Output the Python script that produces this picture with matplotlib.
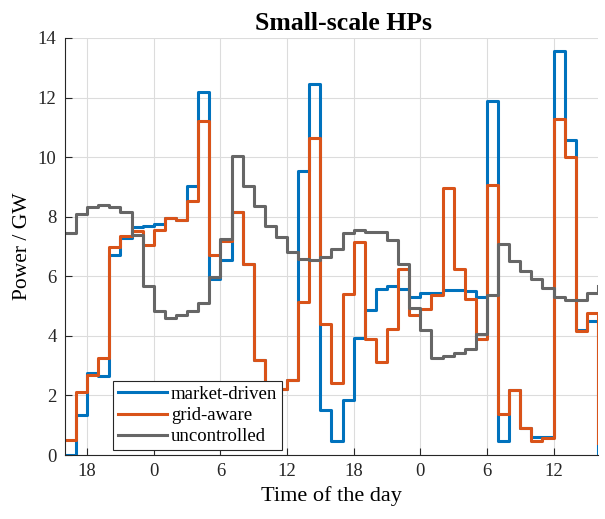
import numpy as np
import matplotlib
matplotlib.use("Agg")
import matplotlib.pyplot as plt

# hourly values, starting 16:00 on day one (last value = end point)
market_driven = [0.0, 1.35, 2.76, 2.65, 6.71, 7.30, 7.66, 7.68, 7.75, 7.95,
                 7.88, 9.03, 12.20, 5.90, 6.55, 8.17, 6.40, 3.18, 2.00, 2.20,
                 2.52, 9.53, 12.45, 1.51, 0.46, 1.83, 3.94, 4.88, 5.58, 5.66,
                 5.58, 5.32, 5.45, 5.45, 5.55, 5.55, 5.50, 5.30, 11.87, 0.46,
                 2.18, 0.90, 0.60, 0.60, 13.56, 10.59, 4.19, 4.50, 0.0]
grid_aware = [0.51, 2.10, 2.68, 3.27, 6.99, 7.36, 7.53, 7.05, 7.55, 7.95,
              7.88, 8.53, 11.20, 6.73, 7.17, 8.17, 6.40, 3.18, 2.00, 2.20,
              2.52, 5.13, 10.65, 4.39, 2.43, 5.41, 7.14, 3.88, 3.13, 4.24,
              6.25, 4.69, 4.91, 5.36, 8.95, 6.25, 5.24, 3.91, 9.06, 1.38,
              2.18, 0.90, 0.46, 0.57, 11.29, 10.00, 4.16, 4.77, 0.40]
uncontrolled = [7.46, 8.08, 8.31, 8.40, 8.34, 8.17, 7.39, 5.69, 4.83, 4.61,
                4.69, 4.83, 5.10, 5.99, 7.25, 10.03, 9.03, 8.36, 7.70, 7.33,
                6.80, 6.58, 6.53, 6.64, 6.92, 7.44, 7.55, 7.49, 7.47, 7.22,
                6.41, 4.94, 4.19, 3.24, 3.32, 3.43, 3.57, 4.05, 5.36, 7.10,
                6.50, 6.17, 5.91, 5.61, 5.30, 5.21, 5.21, 5.43, 5.69]
tick_hours = [18, 24, 30, 36, 42, 48, 54, 60]
tick_labels = ["18", "0", "6", "12", "18", "0", "6", "12"]

plt.rcParams['font.family'] = ['Liberation Serif', 'DejaVu Serif']

hours = 16 + np.arange(len(market_driven))

fig = plt.figure(figsize=(6.05, 5.19), dpi=100)
ax = fig.add_axes([0.1074, 0.1233, 0.881, 0.8035])

ax.step(hours, market_driven, where='post', color='#0072BD', lw=2.2, label='market-driven')
ax.step(hours, grid_aware, where='post', color='#D95319', lw=2.2, label='grid-aware')
ax.step(hours, uncontrolled, where='post', color='#666666', lw=2.2, label='uncontrolled')

ax.set_xlim(16, 64)
ax.set_ylim(0, 14)
ax.set_xticks(tick_hours)
ax.set_xticklabels(tick_labels)
ax.set_yticks(np.arange(0, 15, 2))
ax.grid(True, color='#dcdcdc', lw=0.8)
ax.set_axisbelow(True)
for s in ['top', 'right']:
    ax.spines[s].set_visible(False)
for s in ['left', 'bottom']:
    ax.spines[s].set_color('#262626')
ax.tick_params(direction='in', length=5, labelsize=13.5, colors='#262626', pad=6)

ax.set_title('Small-scale HPs', fontsize=18.5, fontweight='bold', pad=6, x=0.523)
ax.set_xlabel('Time of the day', fontsize=16, labelpad=4)
ax.set_ylabel('Power / GW', fontsize=15.5)

leg = ax.legend(loc='lower left', bbox_to_anchor=(0.09, 0.012), fontsize=13.5,
                fancybox=False, framealpha=1, edgecolor='#262626',
                handlelength=2.65, borderpad=0.25, labelspacing=0.22,
                handletextpad=0.2, borderaxespad=0)
leg.get_frame().set_linewidth(0.8)

fig.savefig('out.png', dpi=100)
